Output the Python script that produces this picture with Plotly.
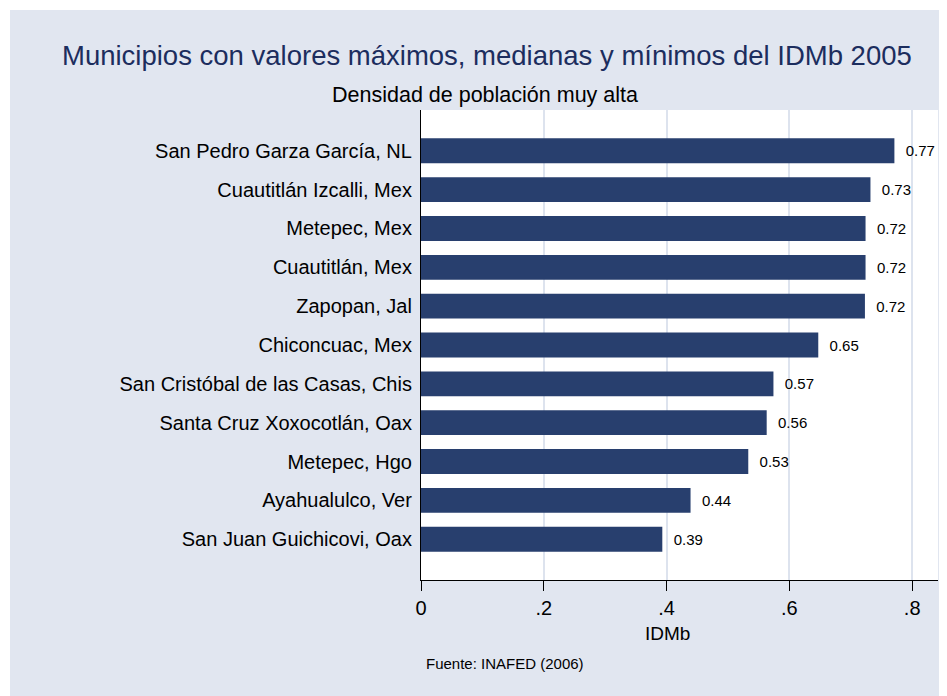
import plotly.graph_objects as go

municipios = [
    "San Pedro Garza García, NL",
    "Cuautitlán Izcalli, Mex",
    "Metepec, Mex",
    "Cuautitlán, Mex",
    "Zapopan, Jal",
    "Chiconcuac, Mex",
    "San Cristóbal de las Casas, Chis",
    "Santa Cruz Xoxocotlán, Oax",
    "Metepec, Hgo",
    "Ayahualulco, Ver",
    "San Juan Guichicovi, Oax",
]
idmb = [0.771, 0.732, 0.724, 0.724, 0.723, 0.647, 0.574, 0.563, 0.533, 0.439, 0.393]
tick_vals = [0, 0.2, 0.4, 0.6, 0.8]
tick_text = ["0", ".2", ".4", ".6", ".8"]

OFF = 8  # page body margin
W, H = 947 - OFF, 696 - OFF
L, R, T, B = 421 - OFF, 9, 110 - OFF, 116
PW, PH = W - L - R, H - T - B

FONT = "Liberation Sans, Arial, sans-serif"
BG = "#E1E6F0"
BAR = "#283F6E"

def px_x(px):  # page px -> paper
    return (px - OFF - L) / PW

def px_y(py):
    return (H - B - (py - OFF)) / PH

fig = go.Figure(go.Bar(
    x=idmb,
    y=municipios,
    orientation="h",
    marker=dict(color=BAR, line=dict(width=0)),
    width=0.64,
    text=["\u00a0\u00a0" + f"{v:.2f}" for v in idmb],
    textposition="outside",
    textfont=dict(family=FONT, size=15, color="black"),
    cliponaxis=False,
))

fig.update_layout(
    width=W, height=H,
    margin=dict(l=L, r=R, t=T, b=B, pad=0),
    paper_bgcolor=BG,
    plot_bgcolor="white",
    showlegend=False,
    font=dict(family=FONT, color="black"),
    xaxis=dict(
        range=[0, 0.842],
        tickvals=tick_vals,
        ticktext=tick_text,
        showgrid=True, gridcolor="#DDE3EE", gridwidth=1.5,
        zeroline=False,
        showline=True, linecolor="black", linewidth=1.2,
        ticks="outside", ticklen=10, tickcolor="black", tickwidth=1.2,
        tickfont=dict(family=FONT, size=20, color="black"),
        fixedrange=True,
    ),
    yaxis=dict(
        categoryorder="array",
        categoryarray=municipios[::-1],
        range=[-1.05, 11.05],
        showgrid=False,
        zeroline=False,
        showline=True, linecolor="black", linewidth=1.2,
        ticks="",
        ticklabelstandoff=4,
        tickfont=dict(family=FONT, size=20, color="black"),
        fixedrange=True,
    ),
    annotations=[
        dict(text="Municipios con valores máximos, medianas y mínimos del IDMb 2005",
             xref="paper", yref="paper", x=px_x(487), y=px_y(55),
             xanchor="center", yanchor="middle", showarrow=False,
             font=dict(family=FONT, size=27.5, color="#1c2d5e")),
        dict(text="Densidad de población muy alta",
             xref="paper", yref="paper", x=px_x(485), y=px_y(95),
             xanchor="center", yanchor="middle", showarrow=False,
             font=dict(family=FONT, size=21.5, color="black")),
        dict(text="IDMb",
             xref="paper", yref="paper", x=px_x(667), y=px_y(633),
             xanchor="center", yanchor="middle", showarrow=False,
             font=dict(family=FONT, size=19, color="black")),
        dict(text="Fuente: INAFED (2006)",
             xref="paper", yref="paper", x=px_x(424), y=px_y(663),
             xanchor="left", yanchor="middle", showarrow=False,
             font=dict(family=FONT, size=15, color="black")),
    ],
    shapes=[
        dict(type="rect", xref="paper", yref="paper",
             x0=px_x(OFF), x1=px_x(947), y0=px_y(10), y1=px_y(OFF),
             fillcolor="white", line=dict(width=0), layer="above"),
        dict(type="rect", xref="paper", yref="paper",
             x0=px_x(OFF), x1=px_x(10), y0=px_y(696), y1=px_y(OFF),
             fillcolor="white", line=dict(width=0), layer="above"),
    ],
)

fig.write_html("out.html")
